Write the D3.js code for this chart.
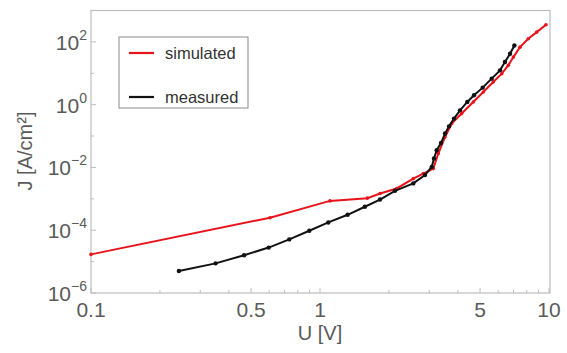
<!DOCTYPE html>
<html><head><meta charset="utf-8">
<script src="https://cdn.jsdelivr.net/npm/d3@7/dist/d3.min.js"></script>
<style>body{margin:0;background:#fff}svg{display:block}</style>
</head><body>
<svg id="c" width="567" height="353"></svg>
<script>
// Data
const simU = [0.1, 0.605, 1.105, 1.61, 1.83, 2.163, 2.555, 2.826, 3.124, 3.286, 3.515, 3.759, 4.157, 4.67, 5.167, 5.71, 6.22, 6.64, 6.99, 7.47, 8.12, 8.84, 9.70];
const simJ = [1.7e-5, 2.5e-4, 8.6e-4, 1.05e-3, 1.48e-3, 2.14e-3, 4.4e-3, 6.4e-3, 9.2e-3, 0.0277, 0.0935, 0.25, 0.52, 1.22, 2.53, 5.26, 9.7, 17.9, 32.8, 68, 126, 205, 352];
const measU = [0.242, 0.350, 0.466, 0.597, 0.734, 0.898, 1.087, 1.32, 1.57, 1.828, 2.126, 2.555, 2.874, 3.074, 3.146, 3.233, 3.376, 3.515, 3.66, 3.847, 4.087, 4.397, 4.704, 5.133, 5.62, 6.11, 6.42, 6.76, 7.06];
const measJ = [5e-6, 8.8e-6, 1.6e-5, 2.8e-5, 5.1e-5, 9.6e-5, 1.77e-4, 3.1e-4, 5.6e-4, 9.5e-4, 1.8e-3, 3.1e-3, 5.7e-3, 0.0104, 0.0192, 0.0353, 0.060, 0.12, 0.204, 0.36, 0.66, 1.22, 1.99, 3.49, 6.74, 12.4, 22.8, 42, 77];
const xMajor = [0.1, 0.5, 1, 5, 10];
const xLabels = ["0.1", "0.5", "1", "5", "10"];
const xMinor = [0.2, 0.3, 0.4, 0.6, 0.7, 0.8, 0.9, 2, 3, 4, 6, 7, 8, 9];
const yMajorExp = [-6, -4, -2, 0, 2];
const yMinorExp = [-5, -3, -1, 1];
const seriesNames = ["simulated", "measured"];
const seriesColors = ["#e8131b", "#111111"];

const svg = d3.select("#c");
const L = 91, R = 549, T = 10.5, B = 293;
const x = d3.scaleLog().domain([0.1, 10]).range([L, R]);
const y = d3.scaleLog().domain([1e-6, 1e3]).range([B, T]);
const gray = "#bdbdbd", txt = "#5a5a5a";
const font = "Liberation Sans, Arial, sans-serif";

// frame
svg.append("rect").attr("x", L).attr("y", T).attr("width", R + 1 - L).attr("height", B - T)
  .attr("fill", "none").attr("stroke", gray).attr("stroke-width", 1.2);

// x ticks
svg.selectAll(".xmaj").data(xMajor).join("line")
  .attr("x1", d => x(d)).attr("x2", d => x(d)).attr("y1", B).attr("y2", B - 5)
  .attr("stroke", gray).attr("stroke-width", 1);
svg.selectAll(".xmin").data(xMinor).join("line")
  .attr("x1", d => x(d)).attr("x2", d => x(d)).attr("y1", B).attr("y2", B - 3)
  .attr("stroke", gray).attr("stroke-width", 1);
svg.selectAll(".xl").data(xMajor).join("text")
  .attr("x", d => x(d)).attr("y", 317).attr("text-anchor", "middle")
  .attr("font-family", font).attr("font-size", 21).attr("fill", txt)
  .text((d, i) => xLabels[i]);

// y ticks
svg.selectAll(".ymaj").data(yMajorExp).join("line")
  .attr("x1", L).attr("x2", L + 5).attr("y1", d => y(Math.pow(10, d))).attr("y2", d => y(Math.pow(10, d)))
  .attr("stroke", gray).attr("stroke-width", 1);
svg.selectAll(".ymin").data(yMinorExp).join("line")
  .attr("x1", L).attr("x2", L + 3).attr("y1", d => y(Math.pow(10, d))).attr("y2", d => y(Math.pow(10, d)))
  .attr("stroke", gray).attr("stroke-width", 1);
const yl = svg.selectAll(".yl").data(yMajorExp).join("text")
  .attr("x", 87).attr("y", d => y(Math.pow(10, d)) + 8).attr("text-anchor", "end")
  .attr("font-family", font).attr("font-size", 21).attr("fill", txt);
yl.append("tspan").text("10");
yl.append("tspan").attr("dy", -10).attr("font-size", 14).text(d => (d < 0 ? "\u2212" : "") + Math.abs(d));

// axis titles
svg.append("text").attr("x", 320).attr("y", 340).attr("text-anchor", "middle")
  .attr("font-family", font).attr("font-size", 20).attr("fill", txt).text("U [V]");
svg.append("text").attr("transform", "translate(32,151) rotate(-90)").attr("text-anchor", "middle")
  .attr("font-family", font).attr("font-size", 20).attr("fill", txt).text("J [A/cm²]");

// lines
const line = d3.line().x(d => x(d[0])).y(d => y(d[1]));
const sets = [simU.map((u, i) => [u, simJ[i]]), measU.map((u, i) => [u, measJ[i]])];
sets.forEach((s, k) => {
  const g = svg.append("g");
  g.append("path").attr("d", line(s)).attr("fill", "none").attr("stroke", seriesColors[k]).attr("stroke-width", 2);
  g.selectAll("circle").data(s).join("circle").attr("cx", d => x(d[0])).attr("cy", d => y(d[1]))
    .attr("r", k === 0 ? 1.8 : 2.2).attr("fill", seriesColors[k]);
});

// legend
svg.append("rect").attr("x", 119).attr("y", 37).attr("width", 129).attr("height", 71)
  .attr("fill", "#fff").attr("stroke", "#8a8a8a").attr("stroke-width", 1);
seriesNames.forEach((n, i) => {
  const yy = 53 + i * 44;
  svg.append("line").attr("x1", 129).attr("x2", 154).attr("y1", yy).attr("y2", yy)
    .attr("stroke", seriesColors[i]).attr("stroke-width", 2.2);
  svg.append("text").attr("x", 165).attr("y", yy + 5.5).attr("font-family", font).attr("font-size", 16.5)
    .attr("fill", "#333").text(n);
});
</script>
</body></html>
